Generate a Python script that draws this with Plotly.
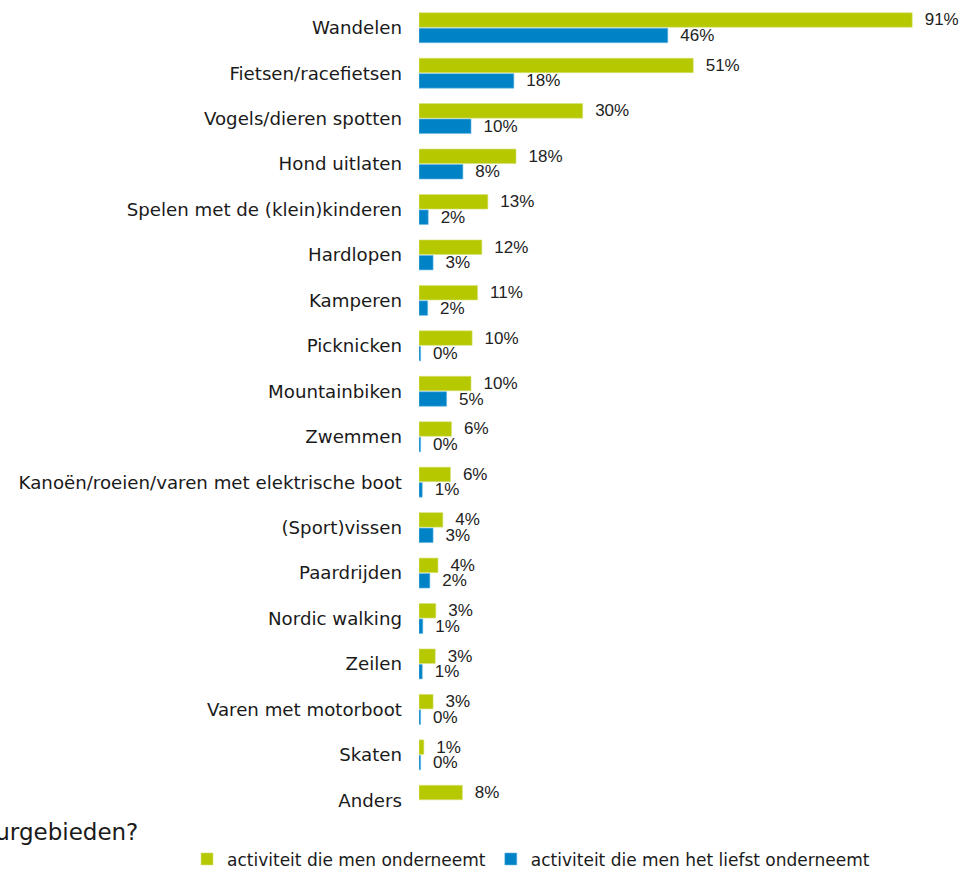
import plotly.graph_objects as go

categories = [
    "Wandelen", "Fietsen/racefietsen", "Vogels/dieren spotten", "Hond uitlaten",
    "Spelen met de (klein)kinderen", "Hardlopen", "Kamperen", "Picknicken",
    "Mountainbiken", "Zwemmen", "Kanoën/roeien/varen met elektrische boot",
    "(Sport)vissen", "Paardrijden", "Nordic walking", "Zeilen",
    "Varen met motorboot", "Skaten", "Anders",
]
onderneemt = [91.0, 50.6, 30.2, 17.9, 12.7, 11.6, 10.8, 9.8, 9.6, 6.0, 5.8,
              4.4, 3.5, 3.1, 3.0, 2.6, 0.9, 8.0]
liefst = [45.9, 17.5, 9.6, 8.1, 1.7, 2.6, 1.6, 0.3, 5.1, 0.3, 0.6,
          2.6, 2.0, 0.7, 0.6, 0.3, 0.3, None]

series_names = ["activiteit die men onderneemt", "activiteit die men het liefst onderneemt"]
GREEN = "#b5c800"
BLUE = "#0082c6"


def labels(vals):
    return ["" if v is None else "\u00a0\u00a0" + f"{round(v)}%" for v in vals]


LABEL_FONT = dict(family="Liberation Sans, Arial, sans-serif", size=17, color="#222222")

fig = go.Figure()
fig.add_trace(go.Bar(
    y=categories, x=onderneemt, orientation="h", name=series_names[0],
    marker=dict(color=GREEN, line=dict(color="#d8e27a", width=0.6)),
    text=labels(onderneemt), textposition="outside", cliponaxis=False,
    constraintext="none", textfont=LABEL_FONT,
))
fig.add_trace(go.Bar(
    y=categories, x=liefst, orientation="h", name=series_names[1],
    marker=dict(color=BLUE, line=dict(color="#6cbbe6", width=0.6)),
    text=labels(liefst), textposition="outside", cliponaxis=False,
    constraintext="none", textfont=LABEL_FONT,
))

fig.update_layout(
    width=963, height=871,
    barmode="group", bargap=0.32, bargroupgap=0.06,
    plot_bgcolor="white", paper_bgcolor="white",
    margin=dict(l=419, r=2, t=5, b=48, autoexpand=False),
    xaxis=dict(range=[0, 100], visible=False, showgrid=False, zeroline=False),
    yaxis=dict(autorange="reversed", showgrid=False, zeroline=False, showline=False,
               ticks="", ticklabelstandoff=16,
               tickfont=dict(family="DejaVu Sans, Verdana, sans-serif", size=18.2, color="#1a1a1a")),
    showlegend=True,
    legend=dict(orientation="h", x=-0.428, xanchor="left", y=-0.0225, yanchor="top",
                font=dict(family="DejaVu Sans, Verdana, sans-serif", size=17, color="#1a1a1a"),
                itemwidth=30, traceorder="normal", tracegroupgap=0),
    annotations=[dict(
        text="natuurgebieden?", xref="paper", yref="paper",
        x=-0.515, y=-0.011, xanchor="right", yanchor="middle", showarrow=False,
        font=dict(family="DejaVu Sans, Verdana, sans-serif", size=23, color="#1a1a1a"),
    )],
)

fig.write_html("out.html", config={"displayModeBar": False},
               post_script="document.body.style.margin='0';")
